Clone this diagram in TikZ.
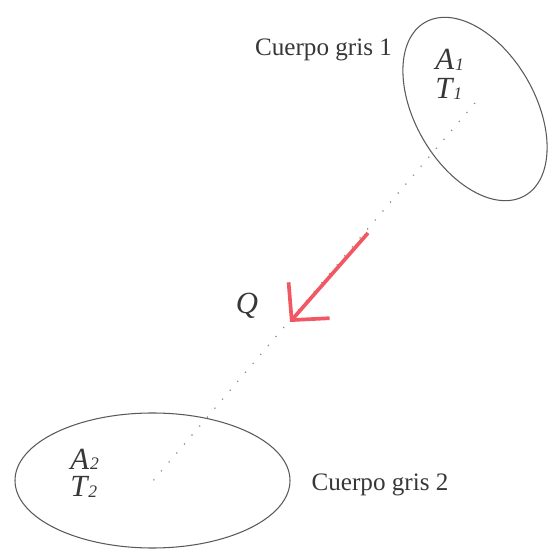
\documentclass[tikz,border=0pt]{standalone}
\usepackage{fontspec}
\setmainfont{Liberation Serif}
\usetikzlibrary{arrows.meta}
\definecolor{tinta}{RGB}{55,55,55}
\definecolor{rojoq}{RGB}{242,88,100}
\tikzset{
  cuerpo/.style={draw=black!65, line width=0.6pt},
  etiqueta/.style={text=tinta, font=\fontsize{14.3}{16}\selectfont, inner sep=0pt},
  simbolo/.style={text=tinta, font=\fontsize{17.5}{18}\selectfont\itshape, inner sep=0pt},
  rayo/.style={draw=black!45, line width=0.7pt, dash pattern=on 0.7pt off 6pt},
  flujo/.style={draw=rojoq, line width=2.1pt, -{Straight Barb[length=15pt,width=31pt]}}
}
\newcommand{\subind}[1]{\kern0.5pt\raisebox{-0.5pt}{\fontsize{10}{10}\selectfont #1}}
\begin{document}
\begin{tikzpicture}
  \useasboundingbox (0,0) rectangle (11,11.02);

  % Cuerpo gris 1 (elipse inclinada)
  \draw[cuerpo, rotate around={-60:(9.5,8.84)}] (9.5,8.84) ellipse (2 and 1.2);
  % Cuerpo gris 2
  \draw[cuerpo] (3.05,1.41) ellipse (2.75 and 1.35);

  % Puntos entre los dos cuerpos
  \coordinate (c1) at (9.5,8.96);
  \coordinate (c2) at (3.04,1.38);
  \draw[rayo] (c1) -- (c2);

  % Flecha del calor Q
  \coordinate (qa) at (7.36,6.36);
  \coordinate (qb) at (5.8,4.58);
  \draw[flujo] (qa) -- (qb);

  % Textos
  \node[etiqueta] (nom1) at (6.47,10.02) {Cuerpo gris 1};
  \node[etiqueta] (nom2) at (7.6,1.32) {Cuerpo gris 2};
  \node[simbolo, align=left, anchor=west, font=\fontsize{17.5}{16.5}\selectfont\itshape]
    (at1) at (8.7,9.53) {A\subind{1}\\T\subind{1}};
  \node[simbolo, align=left, anchor=west, font=\fontsize{17.5}{15.5}\selectfont\itshape]
    (at2) at (1.4,1.56) {A\subind{2}\\T\subind{2}};
  \node[simbolo] (q) at (4.94,4.9) {Q};
\end{tikzpicture}
\end{document}
